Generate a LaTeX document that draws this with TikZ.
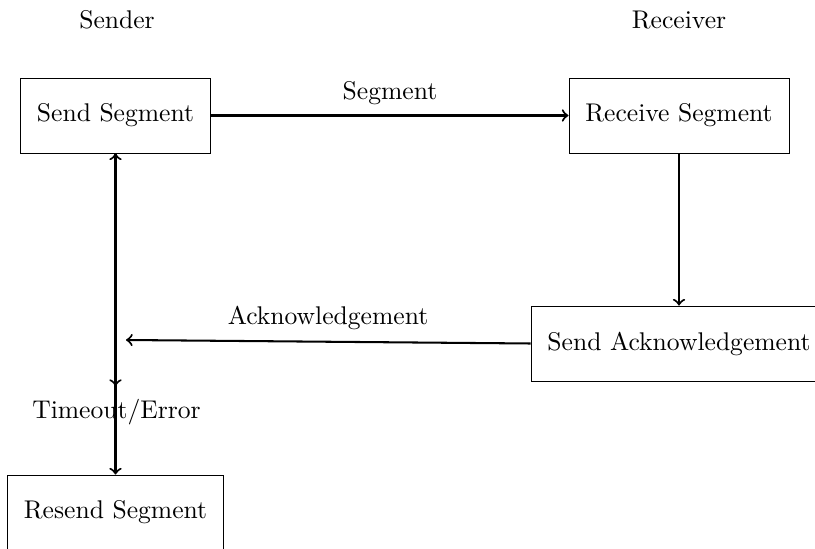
\documentclass[tikz,border=0pt]{standalone}
\usetikzlibrary{arrows}
\begin{document}
\begin{tikzpicture}[x=0.390625pt,y=-0.390625pt,
  stepbox/.style={draw, line width=0.35pt, inner xsep=6.4pt, minimum height=29.3pt, font=\normalsize},
  flow/.style={->, thick},
  lbl/.style={font=\normalsize}]
  \useasboundingbox (0,0) rectangle (815,549);

  % column headings
  \node[lbl] (sender) at (117,20) {Sender};
  \node[lbl] (receiver) at (679,20) {Receiver};

  % process steps
  \node[stepbox] (send) at (115.5,115.5) {Send Segment};
  \node[stepbox] (recv) at (679,115.5) {Receive Segment};
  \node[stepbox] (ack) at (679,343.5) {Send Acknowledgement};
  \node[stepbox] (resend) at (115.5,512.5) {Resend Segment};

  % segment transfer: solid line with a dashed trace laid over it
  \draw[flow] (send.east) -- (recv.west);
  \draw[semithick, dash pattern=on 5pt off 1.5pt] ([yshift=0.3pt]send.east) -- ([xshift=-3pt,yshift=0.3pt]recv.west);
  \node[lbl] (seglbl) at (390,93) {Segment};

  % receiver side
  \draw[flow] (recv.south) -- (ack.north);

  % acknowledgement back to sender
  \coordinate (ackend) at (126,340);
  \draw[flow] (ack.west) -- (ackend);
  \node[lbl] (acklbl) at (328,318) {Acknowledgement};

  % timeout path
  \coordinate (tmo) at (115.5,386);
  \draw[<->, thick] (send.south) -- (resend.north);
  \draw[flow] (send.south) -- (tmo);
  \node[lbl] (tmolbl) at (116.5,412) {Timeout/Error};
\end{tikzpicture}
\end{document}
